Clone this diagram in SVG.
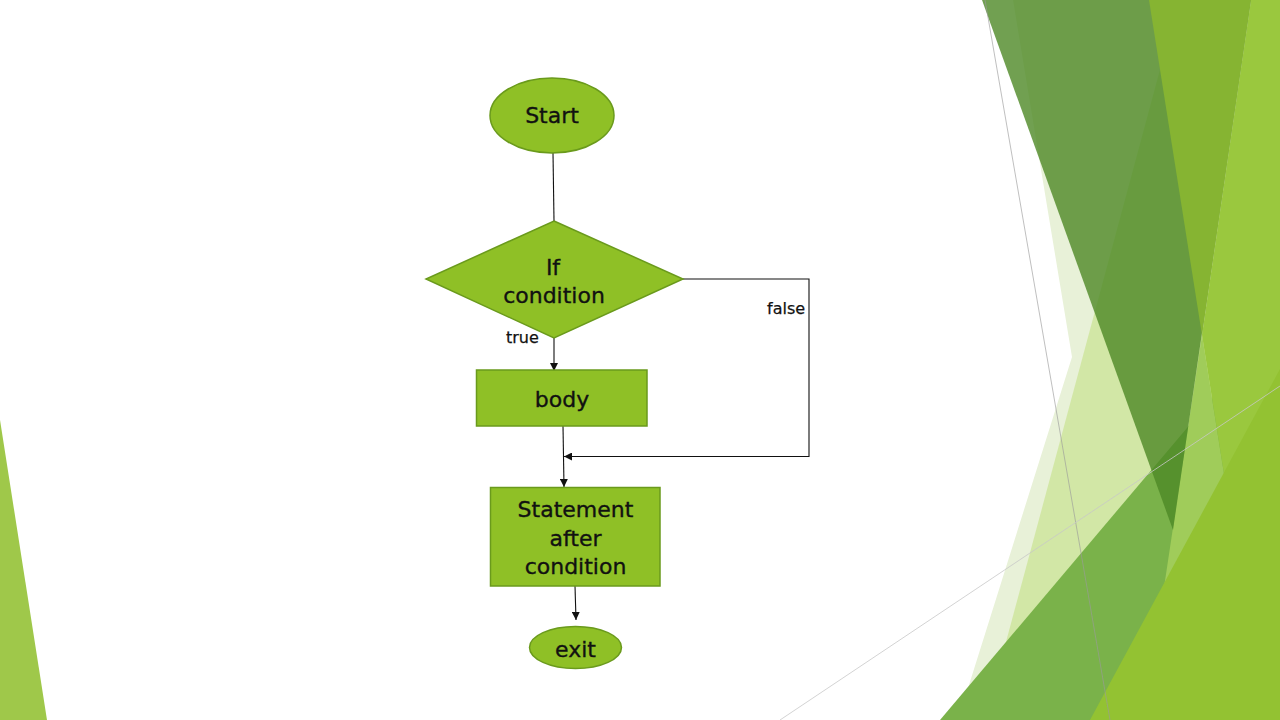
<svg xmlns="http://www.w3.org/2000/svg" width="1280" height="720" viewBox="0 0 1280 720">
<style>
.node{fill:#8fc026;stroke:#6a9a1c;stroke-width:1.5}
.lbl{font-family:"DejaVu Sans",sans-serif;font-size:22px;fill:#111;stroke:#111;stroke-width:0.35;text-anchor:middle}
.edge{fill:none;stroke:#111;stroke-width:1.1}
.elbl{font-family:"DejaVu Sans",sans-serif;font-size:16px;fill:#111;stroke:#111;stroke-width:0.25}
</style>
<defs>
<marker id="arr" viewBox="0 0 10 10" refX="10" refY="5" markerWidth="8" markerHeight="8" markerUnits="userSpaceOnUse" orient="auto">
<path d="M0,0 L10,5 L0,10 z" fill="#111"/>
</marker>
</defs>
<rect width="1280" height="720" fill="#ffffff"/>
<g id="background">
<polygon points="0,420 47,720 0,720" fill="#9fc84a"/>
<polygon points="1013,0 1072,357 958,720 1280,720 1280,0" fill="#e8f1d8"/>
<polygon points="1162,62 985,720 1262,720" fill="#d2e7a6"/>
<polygon points="940,720 1280,318 1280,720" fill="#7ab24a"/>
<polygon points="1202,335 1160,614 1263,720" fill="#a0cc5a"/>
<polygon points="982,0 1251,0 1173,530" fill="rgb(78,136,37)" fill-opacity="0.8"/>
<polygon points="1251,0 1280,0 1280,720 1263,720 1202,335" fill="#9ac83e"/>
<polygon points="1149,0 1251,0 1202,335" fill="#86b432"/>
<polygon points="1090,720 1280,369 1280,720" fill="#93c232"/>
<line x1="985" y1="0" x2="1110" y2="720" stroke="#9a9a9a" stroke-width="0.8" stroke-opacity="0.8"/>
<line x1="780" y1="720" x2="1280" y2="386" stroke="#c8c8c8" stroke-width="0.8"/>
</g>
<g id="connectors">
<line class="edge" x1="553" y1="153" x2="554" y2="221"/>
<line class="edge" x1="554" y1="330" x2="554" y2="371" marker-end="url(#arr)"/>
<polyline class="edge" points="683,279 809,279 809,456.5 564,456.5" marker-end="url(#arr)"/>
<line class="edge" x1="563" y1="426" x2="564" y2="487" marker-end="url(#arr)"/>
<line class="edge" x1="575" y1="586" x2="576" y2="620" marker-end="url(#arr)"/>
<text class="elbl" x="506" y="343">true</text>
<text class="elbl" x="767" y="314">false</text>
</g>
<g id="start">
<ellipse class="node" cx="552" cy="115.5" rx="62" ry="37.5"/>
<text class="lbl" x="552" y="123">Start</text>
</g>
<g id="condition">
<polygon class="node" points="554,221 683,279 554,338 426,279"/>
<text class="lbl" x="553" y="275">If</text>
<text class="lbl" x="554" y="303">condition</text>
</g>
<g id="body">
<rect class="node" x="476.5" y="370" width="170.5" height="56"/>
<text class="lbl" x="562" y="406.5">body</text>
</g>
<g id="statement">
<rect class="node" x="490.5" y="487.5" width="169.5" height="98.5"/>
<text class="lbl" x="575.5" y="516.5">Statement</text>
<text class="lbl" x="575.5" y="545.5">after</text>
<text class="lbl" x="575.5" y="574">condition</text>
</g>
<g id="exit">
<ellipse class="node" cx="575.5" cy="647.5" rx="46" ry="21"/>
<text class="lbl" x="575.5" y="656.5">exit</text>
</g>
</svg>
